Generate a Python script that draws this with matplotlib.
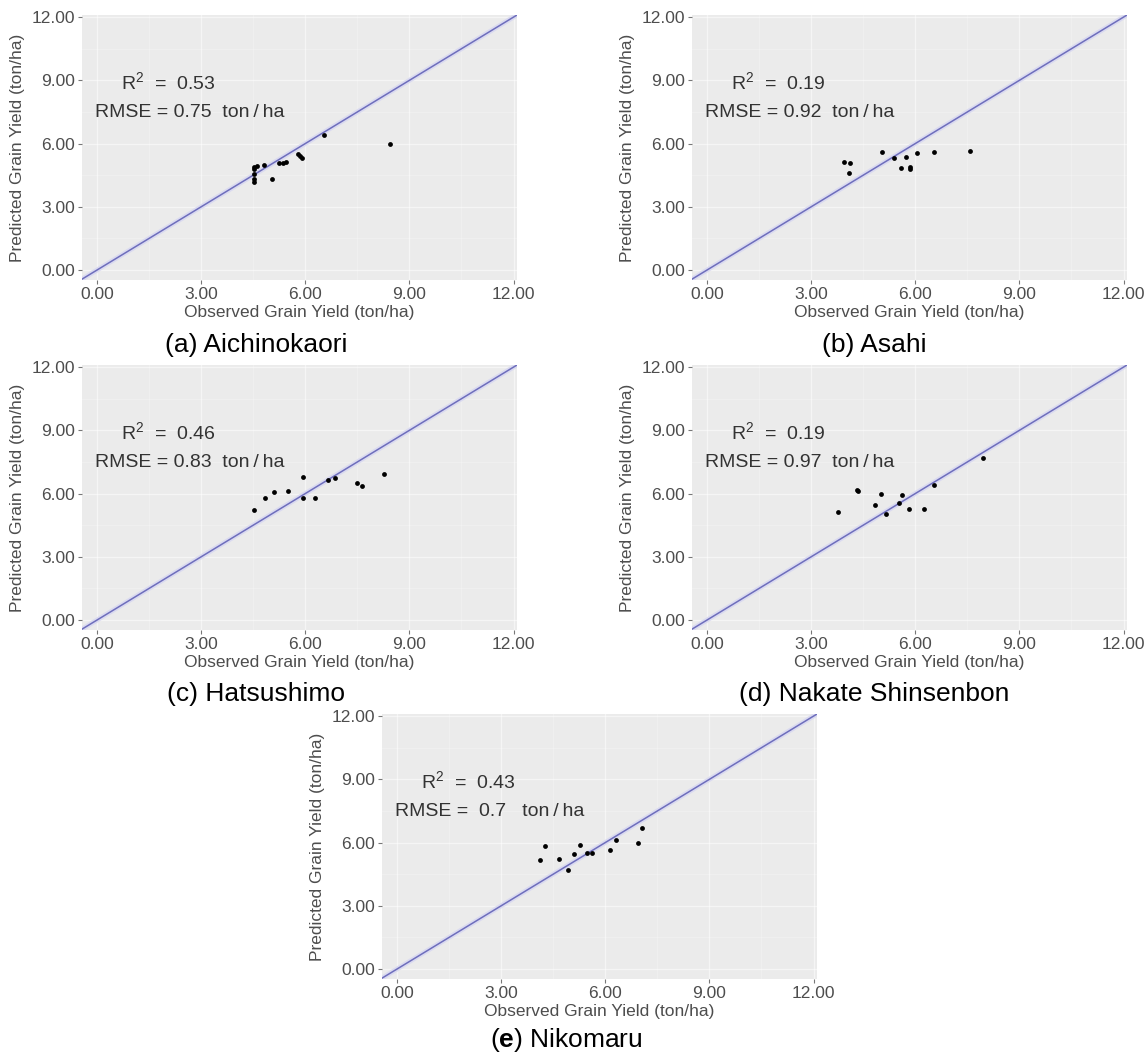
import matplotlib
matplotlib.use('Agg')
import matplotlib.pyplot as plt

plt.rcParams['font.family'] = ['Liberation Sans', 'DejaVu Sans']
plt.rcParams['mathtext.fontset'] = 'custom'
plt.rcParams['mathtext.rm'] = 'Liberation Sans'
plt.rcParams['mathtext.it'] = 'Liberation Sans:italic'
plt.rcParams['mathtext.bf'] = 'Liberation Sans:bold'

# observed vs predicted grain yield (ton/ha) per cultivar
obs_a = [8.45, 6.53, 5.78, 5.85, 5.92, 5.25, 5.35, 5.45, 5.04, 4.80, 4.60,
         4.51, 4.51, 4.51, 4.51, 4.51]
pred_a = [5.98, 6.42, 5.50, 5.40, 5.30, 5.10, 5.10, 5.12, 4.32, 5.00, 4.92,
          4.87, 4.79, 4.56, 4.32, 4.16]

obs_b = [3.96, 4.13, 4.09, 5.05, 5.40, 5.74, 5.60, 5.84, 5.84, 6.06, 6.55, 7.58]
pred_b = [5.14, 5.06, 4.60, 5.59, 5.32, 5.38, 4.84, 4.90, 4.80, 5.54, 5.62, 5.66]

obs_c = [4.53, 4.83, 5.11, 5.50, 5.94, 5.95, 6.28, 6.67, 6.87, 7.48, 7.64, 8.26]
pred_c = [5.22, 5.78, 6.06, 6.10, 6.81, 5.81, 5.78, 6.65, 6.76, 6.52, 6.37, 6.92]

obs_d = [3.78, 4.31, 4.34, 5.01, 4.84, 5.16, 5.53, 5.61, 5.82, 6.26, 6.53, 7.94]
pred_d = [5.15, 6.15, 6.10, 5.99, 5.47, 5.02, 5.55, 5.91, 5.26, 5.26, 6.39, 7.69]

obs_e = [4.13, 4.27, 4.67, 4.92, 5.10, 5.28, 5.48, 5.62, 6.15, 6.32, 6.94, 7.07]
pred_e = [5.19, 5.82, 5.22, 4.68, 5.46, 5.89, 5.51, 5.51, 5.63, 6.14, 5.98, 6.69]

r2 = [0.53, 0.19, 0.46, 0.19, 0.43]
rmse = [0.75, 0.92, 0.83, 0.97, 0.70]
captions = ['(a) Aichinokaori', '(b) Asahi', '(c) Hatsushimo',
            '(d) Nakate Shinsenbon', r'($\mathbf{e}$) Nikomaru']
ticks = [0, 3, 6, 9, 12]

W, H = 1148, 1059
fig = plt.figure(figsize=(W / 100, H / 100), dpi=100)

# (left, top) of each panel in pixels, and caption centre
boxes = [(82, 15), (692, 15), (82, 365), (692, 365), (382, 714)]
cap_pos = [(256, 345), (874, 345), (256, 694), (874, 694), (566, 1040)]
pw, ph = 435, 265

data = [(obs_a, pred_a), (obs_b, pred_b), (obs_c, pred_c),
        (obs_d, pred_d), (obs_e, pred_e)]

txt_col = '#4D4D4D'
for i, ((x, y), (left, top)) in enumerate(zip(data, boxes)):
    ax = fig.add_axes([left / W, 1 - (top + ph) / H, pw / W, ph / H])
    ax.set_facecolor('#EBEBEB')
    for s in ax.spines.values():
        s.set_visible(False)
    ax.set_xlim(-0.43, 12.1)
    ax.set_ylim(-0.47, 12.1)
    ax.set_xticks(ticks)
    ax.set_yticks(ticks)
    ax.set_xticklabels([f'{t:.2f}' for t in ticks])
    ax.set_yticklabels([f'{t:.2f}' for t in ticks])
    ax.set_xticks([1.5, 4.5, 7.5, 10.5], minor=True)
    ax.set_yticks([1.5, 4.5, 7.5, 10.5], minor=True)
    ax.grid(which='major', color='white', lw=1.0, alpha=0.5)
    ax.grid(which='minor', color='white', lw=0.5, alpha=0.35)
    ax.set_axisbelow(True)
    ax.tick_params(which='major', length=3, width=0.8, color='#777777',
                   labelcolor=txt_col, labelsize=12.5, pad=2)
    ax.tick_params(which='minor', length=0)

    # 1:1 line
    ax.axline((0, 0), slope=1, color='#dadaf0', lw=3.5, zorder=2)
    ax.axline((0, 0), slope=1, color='#6e6ebc', lw=1.1, zorder=2)
    ax.scatter(x, y, s=12, color='black', linewidths=0, zorder=3)

    val = f'{rmse[i]:.2f}'.rstrip('0')
    pad = ' ' if len(val) < 4 else ''
    ax.text(2.05, 8.92, f'R$^{{2}}$  =  {r2[i]:.2f}', ha='center',
            va='center', fontsize=14, color='#333333')
    ax.text(2.68, 7.48, f'RMSE = {pad}{val}{pad}  ton\u2009/\u2009ha',
            ha='center', va='center', fontsize=14, color='#333333')

    ax.set_xlabel('Observed Grain Yield (ton/ha)', fontsize=12.5,
                  color=txt_col, labelpad=2)
    ax.set_ylabel('Predicted Grain Yield (ton/ha)', fontsize=12.5,
                  color=txt_col, labelpad=5)

    cx, cy = cap_pos[i]
    fig.text(cx / W, 1 - cy / H, captions[i], ha='center', va='center',
             fontsize=19, color='black')

fig.savefig('out.png', dpi=100)
